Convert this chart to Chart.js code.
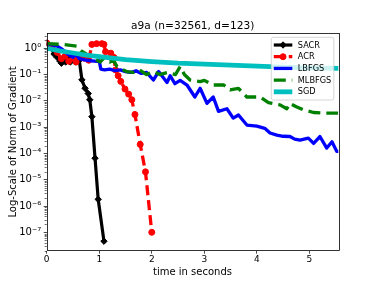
<!DOCTYPE html>
<html><head><meta charset="utf-8">
<script src="https://cdn.jsdelivr.net/npm/chart.js@4/dist/chart.umd.min.js"></script>
<style>html,body{margin:0;padding:0;background:#fff}canvas{display:block}</style>
</head><body>
<canvas id="c" width="376" height="282"></canvas>
<script>
// ---- data ----
const titleText = 'a9a (n=32561, d=123)';
const xLabel = 'time in seconds';
const yLabel = 'Log-Scale of Norm of Gradient';
const seriesNames = ['SACR', 'ACR', 'LBFGS', 'MLBFGS', 'SGD'];
const xTicks = [0, 1, 2, 3, 4, 5];
const yTickExps = [-7, -6, -5, -4, -3, -2, -1, 0];

const sacrT = [0, 0.08, 0.14, 0.2, 0.25, 0.28, 0.32, 0.36, 0.4, 0.45, 0.5, 0.55, 0.62, 0.67, 0.73, 0.79, 0.82, 0.86, 0.92, 0.98, 1.09];
const sacrV = [1.6, 1.1, 0.6, 0.45, 0.33, 0.27, 0.4, 0.3, 0.45, 0.3, 0.38, 0.3, 0.35, 0.063, 0.03, 0.019, 0.011, 0.0025, 6.6e-5, 1.8e-6, 4.6e-8];

const acrT = [0, 0.1, 0.2, 0.28, 0.35, 0.42, 0.5, 0.56, 0.62, 0.71, 0.8, 0.86, 0.95, 1.05, 1.09, 1.12, 1.22, 1.28, 1.31, 1.36, 1.41, 1.49, 1.56, 1.62, 1.68, 1.78, 1.88, 2.0];
const acrV = [1.6, 1.2, 0.7, 0.4, 0.5, 0.32, 0.42, 0.3, 0.5, 0.42, 0.35, 1.4, 1.5, 1.5, 1.4, 0.74, 0.65, 0.45, 0.15, 0.09, 0.055, 0.028, 0.018, 0.011, 0.003, 2.2e-4, 2e-5, 1e-7];

const lbfgsT = [0, 0.2, 0.3, 0.4, 0.5, 0.55, 0.62, 0.75, 0.95, 1.0, 1.03, 1.1, 1.2, 1.3, 1.4, 1.5, 1.6, 1.7, 1.8, 1.9, 2.03, 2.13, 2.29, 2.35, 2.44, 2.54, 2.67, 2.82, 2.92, 3.05, 3.17, 3.27, 3.43, 3.55, 3.65, 3.81, 4.0, 4.15, 4.25, 4.38, 4.5, 4.63, 4.72, 4.82, 4.98, 5.08, 5.2, 5.33, 5.43, 5.52, 5.6];
const lbfgsV = [1.5, 1.2, 0.9, 0.6, 0.45, 0.6, 0.4, 0.35, 0.32, 0.33, 0.16, 0.15, 0.16, 0.14, 0.15, 0.13, 0.12, 0.14, 0.11, 0.12, 0.062, 0.13, 0.05, 0.09, 0.045, 0.06, 0.04, 0.014, 0.03, 0.008, 0.014, 0.004, 0.005, 0.0022, 0.0029, 0.0012, 0.0011, 0.0009, 0.0006, 0.0005, 0.00045, 0.00044, 0.00035, 0.00032, 0.00038, 0.00024, 0.00044, 0.00016, 0.00028, 0.00012, 0.00012];

const mlbfgsT = [0, 0.3, 0.57, 0.65, 0.76, 0.9, 1.02, 1.1, 1.2, 1.27, 1.34, 1.4, 1.52, 1.65, 1.77, 1.9, 2.03, 2.15, 2.3, 2.45, 2.54, 2.62, 2.73, 2.92, 3.0, 3.17, 3.37, 3.49, 3.65, 3.81, 4.06, 4.22, 4.44, 4.57, 4.63, 4.75, 4.89, 5.08, 5.3, 5.6];
const mlbfgsV = [1.5, 1.4, 1.2, 0.8, 0.6, 0.4, 0.3, 0.45, 0.3, 0.35, 0.2, 0.17, 0.13, 0.12, 0.15, 0.1, 0.13, 0.1, 0.12, 0.1, 0.2, 0.1, 0.062, 0.054, 0.06, 0.04, 0.04, 0.026, 0.03, 0.014, 0.014, 0.0085, 0.007, 0.005, 0.008, 0.006, 0.0045, 0.0036, 0.0034, 0.0034];

const sgdT = [0, 0.25, 0.5, 0.75, 1.0, 1.5, 2.0, 2.5, 3.0, 3.5, 4.0, 4.5, 5.0, 5.6];
const sgdV = [1.0, 0.8, 0.66, 0.55, 0.48, 0.37, 0.31, 0.27, 0.25, 0.23, 0.21, 0.19, 0.18, 0.17];

// ---- helpers ----
const pts = (t, v) => t.map((x, i) => ({x: x, y: v[i]}));
const SUP = {'0':'⁰','1':'¹','2':'²','3':'³','4':'⁴','5':'⁵','6':'⁶','7':'⁷','8':'⁸','9':'⁹','-':'⁻'};
const powLabel = e => '10' + String(e).split('').map(c => SUP[c]).join('');
const FONT = 'DejaVu Sans';

const styles = [
  {color: '#000000', width: 3.2, dash: [], marker: 'rectRot', r: 3.2, order: 5},
  {color: '#ff0000', width: 3.3, dash: [10, 5], marker: 'circle', r: 3, order: 4},
  {color: '#0000ff', width: 3.3, dash: [], marker: false, r: 0, order: 3},
  {color: '#008000', width: 3.3, dash: [12, 6], marker: false, r: 0, order: 2},
  {color: '#00bfbf', width: 4.8, dash: [], marker: false, r: 0, order: 1}
];
const seriesData = [pts(sacrT, sacrV), pts(acrT, acrV), pts(lbfgsT, lbfgsV), pts(mlbfgsT, mlbfgsV), pts(sgdT, sgdV)];

const datasets = seriesNames.map((name, i) => {
  const s = styles[i];
  return {
    label: name,
    data: seriesData[i],
    borderColor: s.color,
    backgroundColor: s.color,
    borderWidth: s.width,
    borderDash: s.dash,
    borderJoinStyle: 'round',
    borderCapStyle: 'butt',
    pointStyle: s.marker || 'circle',
    pointRadius: s.r,
    pointBorderWidth: 1,
    pointBorderColor: s.color,
    pointBackgroundColor: s.color,
    tension: 0,
    order: s.order,
    xAxisID: 'x',
    yAxisID: 'y'
  };
});

// frame + minor ticks
const framePlugin = {
  id: 'frame',
  afterDraw(chart) {
    const {ctx, chartArea: a, scales} = chart;
    ctx.save();
    ctx.strokeStyle = '#000';
    ctx.lineWidth = 0.8;
    ctx.strokeRect(Math.round(a.left) + 0.5, Math.round(a.top) + 0.5, Math.round(a.right - a.left), Math.round(a.bottom - a.top));
    const ys = scales.y;
    ctx.beginPath();
    for (let e = -9; e <= 1; e++) {
      for (let m = 2; m <= 9; m++) {
        const v = m * Math.pow(10, e);
        if (v < ys.min || v > ys.max) continue;
        const py = Math.round(ys.getPixelForValue(v)) + 0.5;
        ctx.moveTo(a.left, py);
        ctx.lineTo(a.left - 2, py);
      }
    }
    ctx.lineWidth = 0.6;
    ctx.stroke();
    ctx.restore();
  }
};

// matplotlib-like legend in the upper right
const legendPlugin = {
  id: 'mplLegend',
  afterDraw(chart) {
    const {ctx, chartArea: a} = chart;
    const w = 62.5, h = 62.7, rowH = 11.7;
    const x0 = a.right - 4.5 - w, y0 = a.top + 4;
    ctx.save();
    ctx.globalAlpha = 0.8;
    ctx.fillStyle = '#fff';
    ctx.strokeStyle = '#cccccc';
    ctx.lineWidth = 0.8;
    ctx.beginPath();
    ctx.roundRect(x0, y0, w, h, 2);
    ctx.fill();
    ctx.globalAlpha = 1;
    ctx.stroke();
    chart.data.datasets.forEach((ds, i) => {
      const cy = y0 + 7.7 + i * rowH;
      const lx0 = x0 + 2.5, lx1 = x0 + 21;
      ctx.save();
      ctx.strokeStyle = ds.borderColor;
      ctx.lineWidth = ds.borderWidth;
      ctx.setLineDash(ds.borderDash || []);
      ctx.beginPath();
      ctx.moveTo(lx0, cy);
      ctx.lineTo(lx1, cy);
      ctx.stroke();
      ctx.setLineDash([]);
      if (ds.pointRadius > 0) {
        ctx.fillStyle = ds.pointBackgroundColor;
        ctx.strokeStyle = ds.pointBorderColor;
        ctx.lineWidth = 1;
        Chart.helpers.drawPoint(ctx, {pointStyle: ds.pointStyle, radius: ds.pointRadius, borderWidth: 1}, (lx0 + lx1) / 2, cy);
      }
      ctx.restore();
      ctx.fillStyle = '#000';
      ctx.font = '8.2px "' + FONT + '"';
      ctx.textBaseline = 'middle';
      ctx.textAlign = 'left';
      ctx.fillText(ds.label, x0 + 26.5, cy + 0.5);
    });
    ctx.restore();
  }
};

const chart = new Chart(document.getElementById('c'), {
  type: 'line',
  data: {datasets: datasets},
  plugins: [framePlugin, legendPlugin],
  options: {
    responsive: false,
    devicePixelRatio: 1,
    animation: false,
    layout: {padding: {left: 9.4, right: 0, top: 0, bottom: 0}},
    plugins: {
      legend: {display: false},
      tooltip: {enabled: false},
      title: {
        display: true,
        text: titleText,
        color: '#000',
        font: {family: FONT, size: 10.6, weight: 'normal'},
        padding: {top: 20.3, bottom: 0.3}
      }
    },
    elements: {line: {fill: false}},
    scales: {
      x: {
        type: 'linear',
        min: 0,
        max: 5.55,
        afterBuildTicks: s => { s.ticks = xTicks.map(v => ({value: v})); },
        afterFit: s => { s.height = 31.3; },
        ticks: {color: '#000', font: {family: FONT, size: 9}, padding: 1, autoSkip: false, maxRotation: 0,
                callback: v => String(v)},
        grid: {display: true, drawOnChartArea: false, drawTicks: true, tickLength: 3, color: '#000', lineWidth: 0.7},
        border: {display: false},
        title: {display: true, text: xLabel, color: '#000', font: {family: FONT, size: 10}, padding: {top: 0, bottom: 3.5}}
      },
      y: {
        type: 'logarithmic',
        position: 'left',
        min: 2e-8,
        max: 3.7,
        afterBuildTicks: s => { s.ticks = yTickExps.map(e => ({value: Math.pow(10, e), major: true})); },
        afterFit: s => { s.width = 37.3; },
        ticks: {color: '#000', font: {family: FONT, size: 10}, padding: 2.5, autoSkip: false,
                callback: v => powLabel(Math.round(Math.log10(v)))},
        grid: {display: true, drawOnChartArea: false, drawTicks: true, tickLength: 3, color: '#000', lineWidth: 0.7},
        border: {display: false},
        title: {display: true, text: yLabel, color: '#000', font: {family: FONT, size: 10}, padding: {top: -2.1, bottom: 0}}
      },
      yRight: {
        type: 'linear',
        position: 'right',
        display: true,
        afterFit: s => { s.width = 37.7; },
        ticks: {display: false},
        grid: {display: false},
        border: {display: false}
      }
    }
  }
});
</script>
</body></html>
